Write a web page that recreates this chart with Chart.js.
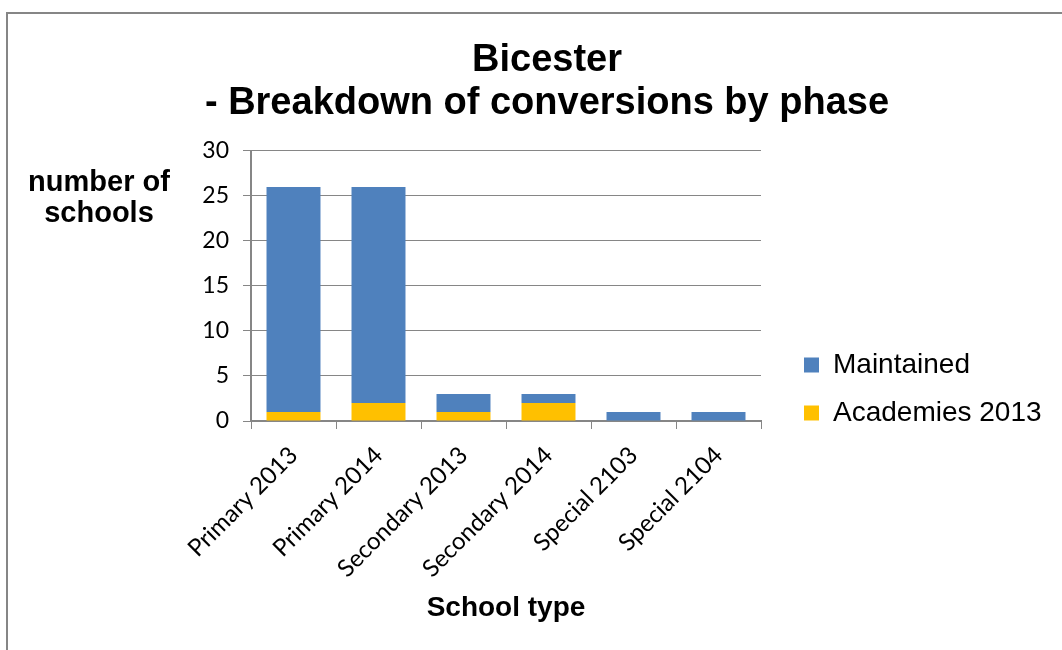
<!DOCTYPE html>
<html>
<head>
<meta charset="utf-8">
<title>Bicester - Breakdown of conversions by phase</title>
<script src="https://cdn.jsdelivr.net/npm/chart.js@4.4.1/dist/chart.umd.min.js"></script>
<style>
  html, body { margin: 0; padding: 0; background: #fff; }
  #wrap { width: 1062px; height: 650px; position: relative; }
</style>
</head>
<body>
<div id="wrap"><canvas id="conversionsChart" width="1062" height="650"></canvas></div>
<script>
// school types along the x axis
const schoolTypes = ['Primary 2013', 'Primary 2014', 'Secondary 2013', 'Secondary 2014', 'Special 2103', 'Special 2104'];
// stacked series, bottom first
const academies2013 = [1, 2, 1, 2, 0, 0];
const maintained = [25, 24, 2, 1, 1, 1];
const yTicks = [0, 5, 10, 15, 20, 25, 30];

const gridGrey = '#868686';
const arialFamily = "'Liberation Sans', Arial, sans-serif";
const tickFamily = "Lato, 'Open Sans', sans-serif";

// frame round the chart, like the spreadsheet chart border
const chartFrame = {
    id: 'chartFrame',
    beforeDraw(chart) {
        const c = chart.ctx;
        c.save();
        c.fillStyle = '#fff';
        c.fillRect(0, 0, chart.width, chart.height);
        c.strokeStyle = gridGrey;
        c.lineWidth = 2;
        c.strokeRect(7, 13, chart.width + 20, chart.height + 20);
        c.restore();
    }
};

// horizontal y axis title, left of the tick labels
const yTitle = {
    id: 'yTitle',
    afterDraw(chart) {
        const c = chart.ctx;
        c.save();
        c.font = 'bold 29px ' + arialFamily;
        c.fillStyle = '#000';
        c.textAlign = 'center';
        c.textBaseline = 'middle';
        c.fillText('number of', 99, 183);
        c.fillText('schools', 99, 214);
        c.restore();
    }
};

// put the legend next to the bottom of the plot, as in the original
const legendPlace = {
    id: 'legendPlace',
    afterLayout(chart) {
        const lg = chart.legend;
        const area = chart.chartArea;
        const h = lg.bottom - lg.top;
        lg.left = area.right + 23;
        lg.right = chart.width;
        lg.width = lg.right - lg.left;
        lg.top = area.bottom - 90;
        lg.bottom = lg.top + h;
    }
};

new Chart(document.getElementById('conversionsChart'), {
    type: 'bar',
    data: {
        labels: schoolTypes,
        datasets: [{
            label: 'Academies 2013',
            data: academies2013,
            backgroundColor: '#FFC000'
        }, {
            label: 'Maintained',
            data: maintained,
            backgroundColor: '#4F81BD'
        }]
    },
    options: {
        responsive: false,
        animation: false,
        barPercentage: 0.635,
        categoryPercentage: 1,
        layout: { padding: { left: 119, right: 87, top: 0, bottom: 0 } },
        plugins: {
            title: {
                display: true,
                text: ['Bicester', '- Breakdown of conversions by phase'],
                color: '#000',
                font: { family: arialFamily, size: 38, weight: 'bold', lineHeight: 1.13 },
                padding: { top: 39, bottom: 26 }
            },
            legend: {
                position: 'right',
                align: 'start',
                reverse: true,
                labels: {
                    boxWidth: 15,
                    boxHeight: 15,
                    padding: 20,
                    color: '#000',
                    font: { family: arialFamily, size: 28 }
                }
            },
            tooltip: { enabled: false }
        },
        scales: {
            x: {
                stacked: true,
                grid: { drawOnChartArea: false, color: gridGrey, tickLength: 8 },
                border: { color: gridGrey, width: 2 },
                ticks: {
                    color: '#000',
                    font: { family: tickFamily, size: 24 },
                    minRotation: 45,
                    maxRotation: 45,
                    padding: 12
                },
                title: {
                    display: true,
                    text: 'School type',
                    color: '#000',
                    font: { family: arialFamily, size: 28, weight: 'bold' },
                    padding: { top: 0, bottom: 25 }
                },
                afterFit(scale) { scale.height = 229; }
            },
            y: {
                stacked: true,
                min: 0,
                max: 30,
                grid: { color: gridGrey, tickLength: 8 },
                border: { color: gridGrey, width: 2 },
                afterBuildTicks(scale) { scale.ticks = yTicks.map((v) => ({ value: v })); },
                ticks: {
                    color: '#000',
                    font: { family: tickFamily, size: 23 },
                    padding: 14
                },
                afterFit(scale) { scale.width = 132; }
            }
        }
    },
    plugins: [chartFrame, yTitle, legendPlace]
});
</script>
</body>
</html>
